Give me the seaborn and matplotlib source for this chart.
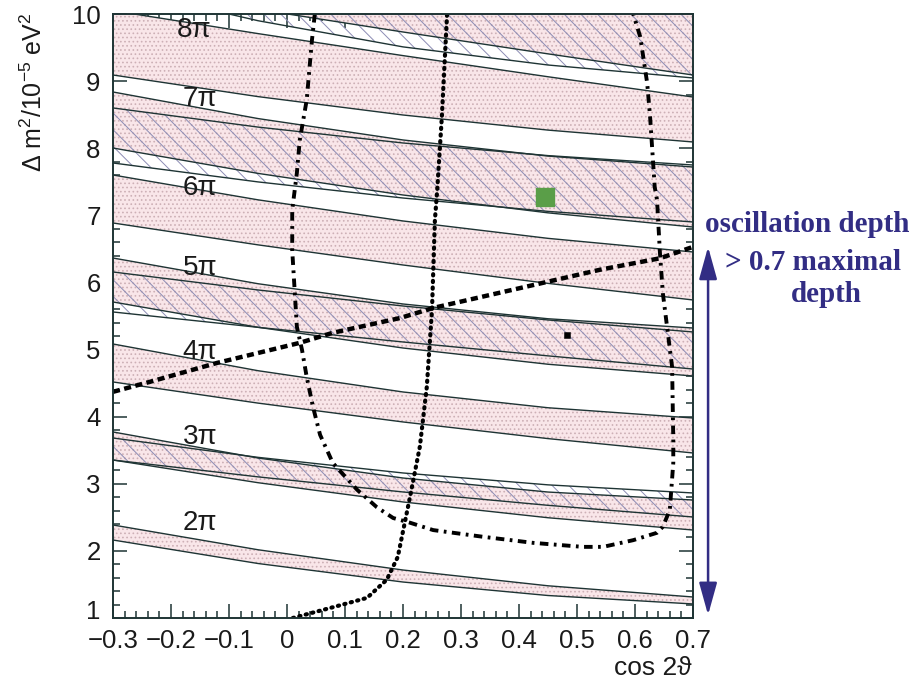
import numpy as np
import matplotlib
matplotlib.use("Agg")
import matplotlib.pyplot as plt
import matplotlib.transforms as mtransforms
from matplotlib.ticker import MultipleLocator, FixedLocator, FixedFormatter
import seaborn as sns

# ---------------------------------------------------------------- data
# cos(2 theta) sampling positions for the phase bands
cos_grid = [-0.3, -0.05, 0.2, 0.45, 0.7]

# stippled bands (upper / lower edge in 1e-5 eV^2) for phase n*pi
stip_2_hi = [2.386, 2.017, 1.715, 1.480, 1.313]
stip_2_lo = [2.162, 1.812, 1.536, 1.335, 1.209]
stip_3_hi = [3.772, 3.384, 3.086, 2.877, 2.758]
stip_3_lo = [3.354, 3.016, 2.729, 2.494, 2.311]
stip_4_hi = [5.083, 4.685, 4.368, 4.133, 3.980]
stip_4_lo = [4.517, 4.202, 3.921, 3.673, 3.459]
stip_5_hi = [6.364, 5.981, 5.679, 5.459, 5.321]
stip_5_lo = [5.709, 5.332, 5.023, 4.781, 4.606]
stip_6_hi = [7.601, 7.231, 6.916, 6.657, 6.454]
stip_6_lo = [6.886, 6.560, 6.260, 5.986, 5.739]
stip_7_hi = [8.838, 8.442, 8.123, 7.883, 7.720]
stip_7_lo = [8.003, 7.625, 7.303, 7.037, 6.826]
stip_8_hi = [10.05, 9.708, 9.380, 9.065, 8.763]
stip_8_lo = [9.091, 8.769, 8.495, 8.270, 8.093]
stip_9_hi = [11.20, 10.89, 10.60, 10.34, 10.10]
stip_9_lo = [10.417, 10.069, 9.732, 9.406, 9.091]

# hatched bands (odd phases)
hatch_3_hi = [3.682, 3.394, 3.161, 2.984, 2.863]
hatch_3_lo = [3.354, 3.103, 2.878, 2.679, 2.505]
hatch_5_hi = [6.156, 5.888, 5.649, 5.441, 5.262]
hatch_5_lo = [5.560, 5.331, 5.113, 4.906, 4.710]
hatch_7_hi = [8.600, 8.315, 8.078, 7.890, 7.750]
hatch_7_lo = [7.780, 7.498, 7.258, 7.059, 6.901]
hatch_9_hi = [11.30, 10.99, 10.70, 10.44, 10.20]
hatch_9_lo = [10.40, 9.900, 9.510, 9.240, 9.047]

# phase labels
phase_labels = ["2π", "3π", "4π", "5π", "6π", "7π", "8π"]
phase_label_x = [-0.15, -0.15, -0.15, -0.15, -0.15, -0.15, -0.16]
phase_label_y = [2.42, 3.70, 4.96, 6.22, 7.41, 8.73, 9.76]

# dashed line
dash_x = [-0.3, -0.236, -0.121, 0.022, 0.079, 0.195, 0.252, 0.424, 0.540, 0.643, 0.700]
dash_y = [4.37, 4.52, 4.80, 5.10, 5.25, 5.47, 5.62, 5.96, 6.19, 6.36, 6.53]

# dotted curve
dot_x = [0.01, 0.079, 0.138, 0.172, 0.191, 0.212, 0.229, 0.241, 0.250, 0.255, 0.259, 0.267, 0.276]
dot_y = [1.00, 1.16, 1.30, 1.57, 1.91, 2.80, 3.55, 4.44, 5.59, 6.93, 7.38, 8.47, 10.0]

# dash-dotted contour
dd_x = [0.048, 0.043, 0.034, 0.022, 0.017, 0.009, 0.009, 0.017, 0.026, 0.034, 0.045,
        0.057, 0.079, 0.121, 0.155, 0.183, 0.212, 0.252, 0.338, 0.424, 0.510, 0.545,
        0.597, 0.638, 0.648, 0.660, 0.666, 0.666, 0.664, 0.648, 0.643, 0.638, 0.634,
        0.626, 0.621, 0.609, 0.597]
dd_y = [10.0, 9.61, 8.72, 8.12, 7.63, 7.08, 6.48, 5.34, 4.99, 4.59, 4.14,
        3.73, 3.31, 2.91, 2.65, 2.49, 2.42, 2.31, 2.21, 2.12, 2.06, 2.06,
        2.16, 2.27, 2.36, 2.61, 3.31, 3.65, 4.74, 5.84, 6.44, 7.23, 7.42,
        8.47, 8.97, 9.66, 10.0]

# best-fit points
green_pt = (0.445, 7.27)
black_pt = (0.483, 5.22)

# axis ticks
x_ticks = [-0.3, -0.2, -0.1, 0.0, 0.1, 0.2, 0.3, 0.4, 0.5, 0.6, 0.7]
x_tick_labels = ["−0.3", "−0.2", "−0.1", "0", "0.1", "0.2", "0.3", "0.4", "0.5", "0.6", "0.7"]
y_ticks = [1, 2, 3, 4, 5, 6, 7, 8, 9, 10]
y_tick_labels = ["1", "2", "3", "4", "5", "6", "7", "8", "9", "10"]

# ---------------------------------------------------------------- style
sns.set_theme(style="ticks")
plt.rcParams["font.family"] = ["Liberation Sans", "DejaVu Sans"]
plt.rcParams["mathtext.fontset"] = "custom"
plt.rcParams["mathtext.rm"] = "Liberation Sans"
plt.rcParams["mathtext.it"] = "Liberation Sans:italic"
plt.rcParams["hatch.linewidth"] = 0.7

fig = plt.figure(figsize=(9.14, 6.82), dpi=100)
fig.patch.set_facecolor("white")
ax = fig.add_axes([113 / 914, 1 - 618 / 682, 580 / 914, 604 / 682])
ax.set_facecolor("white")

line_col = "#1e3434"
stip_face = "#f9e6e9"
stip_dot = "#cdb0b6"
hatch_col = "#8c8cb4"

stip_bands = [(stip_2_lo, stip_2_hi), (stip_3_lo, stip_3_hi), (stip_4_lo, stip_4_hi),
              (stip_5_lo, stip_5_hi), (stip_6_lo, stip_6_hi), (stip_7_lo, stip_7_hi),
              (stip_8_lo, stip_8_hi), (stip_9_lo, stip_9_hi)]
hatch_bands = [(hatch_3_lo, hatch_3_hi), (hatch_5_lo, hatch_5_hi),
               (hatch_7_lo, hatch_7_hi), (hatch_9_lo, hatch_9_hi)]

for lo, hi in stip_bands:
    ax.fill_between(cos_grid, lo, hi, facecolor=stip_face, edgecolor=stip_dot,
                    hatch="....", linewidth=0, zorder=1)
for lo, hi in hatch_bands:
    ax.fill_between(cos_grid, lo, hi, facecolor="none", edgecolor=hatch_col,
                    hatch="\\\\", linewidth=0, zorder=2)
for lo, hi in stip_bands + hatch_bands:
    for edge in (lo, hi):
        sns.lineplot(x=cos_grid, y=edge, sort=False, estimator=None, color=line_col,
                     lw=1.0, ax=ax, zorder=3)

# contours
sns.lineplot(x=dot_x, y=dot_y, sort=False, estimator=None, color="black", lw=3.0,
             linestyle=(0, (0.3, 1.3)), dash_capstyle="round", ax=ax, zorder=5)
sns.lineplot(x=dd_x, y=dd_y, sort=False, estimator=None, color="black", lw=2.8,
             linestyle=(0, (2.2, 1.4, 0.7, 1.4)), ax=ax, zorder=5)
sns.lineplot(x=dash_x, y=dash_y, sort=False, estimator=None, color="black", lw=3.2,
             linestyle=(0, (1.6, 1.0)), ax=ax, zorder=5)

sns.scatterplot(x=[green_pt[0]], y=[green_pt[1]], marker="s", s=150, color="#5a9e48",
                edgecolor="#5a9e48", ax=ax, zorder=6)
sns.scatterplot(x=[black_pt[0]], y=[black_pt[1]], marker="s", s=22, color="black",
                edgecolor="black", ax=ax, zorder=6)

for lab, lx, ly in zip(phase_labels, phase_label_x, phase_label_y):
    ax.text(lx, ly, lab, fontsize=20, color="#1a1a1a", ha="center", va="center", zorder=7)

# axes
ax.set_xlim(-0.3, 0.7)
ax.set_ylim(1, 10)
ax.xaxis.set_major_locator(FixedLocator(x_ticks))
ax.xaxis.set_major_formatter(FixedFormatter(x_tick_labels))
ax.yaxis.set_major_locator(FixedLocator(y_ticks))
ax.yaxis.set_major_formatter(FixedFormatter(y_tick_labels))
ax.xaxis.set_minor_locator(MultipleLocator(0.02))
ax.yaxis.set_minor_locator(MultipleLocator(0.2))
ax.tick_params(which="both", direction="in", top=True, right=True, color=line_col,
               width=1.1, labelsize=18.5, labelcolor="#1a1a1a")
ax.tick_params(which="major", length=10)
ax.tick_params(which="minor", length=5)
ax.tick_params(axis="x", pad=8)
ax.tick_params(axis="y", pad=9)
for sp in ax.spines.values():
    sp.set_color(line_col)
    sp.set_linewidth(1.4)
    sp.set_zorder(8)
ax.set_xlabel("")
ax.set_ylabel("")

# lift the lowest y label clear of the x labels
fig.canvas.draw()
first_ylab = ax.yaxis.get_majorticklabels()[0]
first_ylab.set_transform(first_ylab.get_transform()
                         + mtransforms.ScaledTranslation(0, 6 / 72, fig.dpi_scale_trans))

fig.text(653 / 914, 1 - 668 / 682, "cos 2ϑ", fontsize=19, color="#1a1a1a",
         ha="center", va="center")
fig.text(34 / 914, 1 - 92 / 682, r"Δ m$^2$/10$^{-5}$ eV$^2$", fontsize=18,
         color="#1a1a1a", rotation=90, ha="center", va="center")

# oscillation-depth annotation
navy = "#322d84"
ax.annotate("", xy=(1.026, 1.045), xytext=(1.026, 6.53),
            xycoords=("axes fraction", "data"), textcoords=("axes fraction", "data"),
            arrowprops=dict(arrowstyle="<|-|>,head_length=0.9,head_width=0.25",
                            color=navy, lw=1.8, mutation_scale=22, shrinkA=0, shrinkB=0),
            annotation_clip=False)
serif = ["Liberation Serif", "DejaVu Serif"]
fig.text(807 / 914, 1 - 225 / 682, "oscillation depth", fontsize=21, fontweight="bold",
         family=serif, color=navy, ha="center", va="center")
fig.text(813 / 914, 1 - 262 / 682, "> 0.7 maximal", fontsize=21, fontweight="bold",
         family=serif, color=navy, ha="center", va="center")
fig.text(826 / 914, 1 - 294 / 682, "depth", fontsize=21, fontweight="bold",
         family=serif, color=navy, ha="center", va="center")

fig.savefig("out.png", dpi=100, facecolor="white")
